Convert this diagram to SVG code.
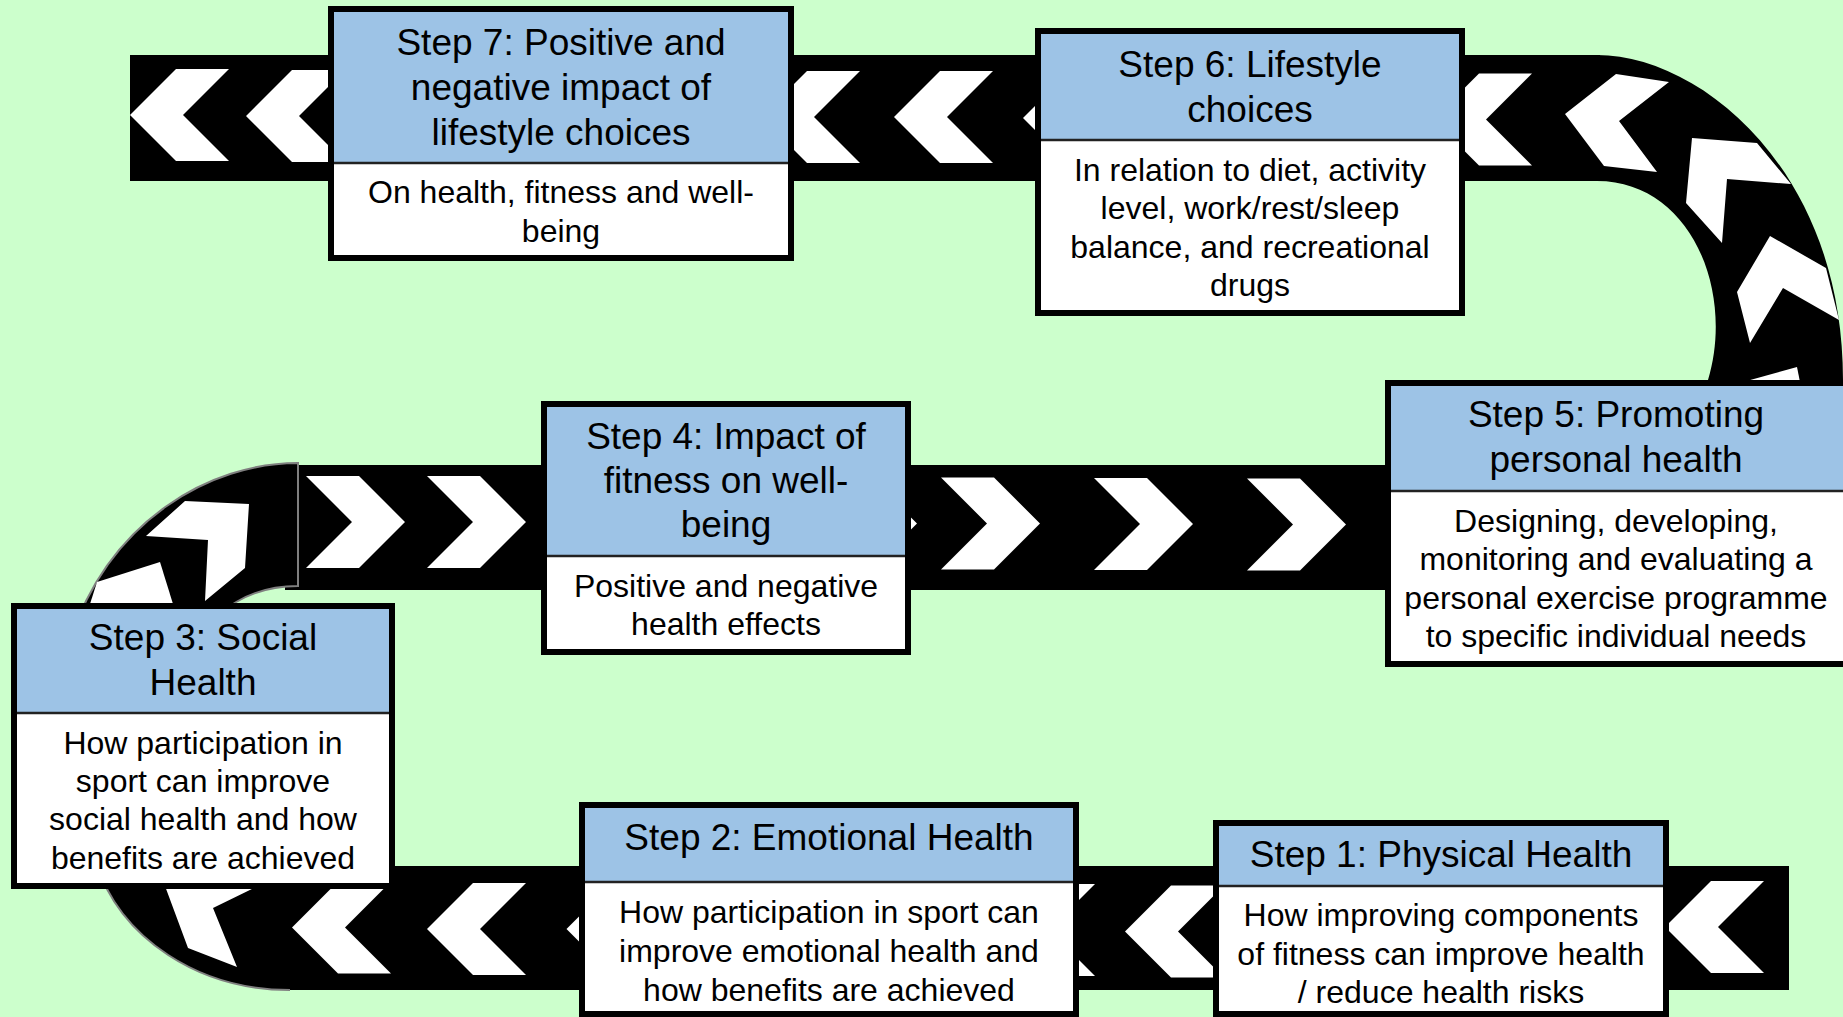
<svg xmlns="http://www.w3.org/2000/svg" xmlns:xlink="http://www.w3.org/1999/xlink" width="1843" height="1017" viewBox="0 0 1843 1017">
  <style>
    .hdr { font-family: "Liberation Sans", Arial, sans-serif; font-size: 37px; text-anchor: middle; fill: #000; }
    .txt { font-family: "Liberation Sans", Arial, sans-serif; font-size: 32px; text-anchor: middle; fill: #000; }
    .frame { fill: none; stroke: #000; stroke-width: 6; }
    .head { fill: #9DC3E6; }
    .sheet { fill: #FFFFFF; }
    .rule { stroke: #222; stroke-width: 2.5; }
    .road { fill: #000; }
    .edge { stroke: #7F7F7F; stroke-width: 2; }
    .arrow { fill: #FFFFFF; }
  </style>
  <defs>
    <!-- left-pointing chevron, tip at the origin -->
    <polygon id="chev" points="0,0 46,-46 99,-46 53,0 99,46 46,46"/>
  </defs>

  <rect x="0" y="0" width="1843" height="1017" fill="#CCFFCC"/>

  <g id="connectors">
    <!-- top road with the bend down on the right -->
    <rect class="road" x="130" y="55" width="1470" height="126"/>
    <path class="road" d="M1597,55 C1700,55 1843,170 1843,380 L1843,600 L1708,600 L1708,380 C1735,290 1690,181 1597,181 Z"/>
    <!-- middle road -->
    <rect class="road" x="285" y="465" width="1520" height="125"/>
    <!-- bottom road -->
    <rect class="road" x="288" y="866" width="1501" height="124"/>
    <!-- left bend, upper piece -->
    <path class="road edge" d="M298,463 C210,463 110,520 70,640 L200,640 C215,610 250,586 298,586 Z"/>
    <!-- left bend, lower piece -->
    <path class="road" d="M290,990 C200,990 120,940 95,860 L95,820 L290,820 Z"/>
    <path fill="none" class="edge" d="M290,990 C200,990 120,940 95,860"/>

    <!-- top road chevrons (pointing left) -->
    <use xlink:href="#chev" href="#chev" class="arrow" x="130" y="115"/>
    <use xlink:href="#chev" href="#chev" class="arrow" x="246" y="116"/>
    <use xlink:href="#chev" href="#chev" class="arrow" x="761" y="117"/>
    <use xlink:href="#chev" href="#chev" class="arrow" x="894" y="117"/>
    <use xlink:href="#chev" href="#chev" class="arrow" x="1023" y="118"/>
    <use xlink:href="#chev" href="#chev" class="arrow" x="1433" y="119.5"/>
    <!-- chevrons along the right bend -->
    <polygon class="arrow" points="1565,114 1616,74 1669,82 1619,121 1657,172 1604,166"/>
    <polygon class="arrow" points="1692,138 1757,143 1791,184 1727,179 1722,243 1686,203"/>
    <polygon class="arrow" points="1770,236 1826,268 1839,320 1783,288 1750,343 1737,292"/>
    <polygon class="arrow" points="1743,382 1797,367 1800,382"/>

    <!-- middle road chevrons (pointing right) -->
    <use xlink:href="#chev" href="#chev" class="arrow" transform="translate(405,522) scale(-1,1)"/>
    <use xlink:href="#chev" href="#chev" class="arrow" transform="translate(526,522) scale(-1,1)"/>
    <use xlink:href="#chev" href="#chev" class="arrow" transform="translate(917,523.5) scale(-1,1)"/>
    <use xlink:href="#chev" href="#chev" class="arrow" transform="translate(1040,523.5) scale(-1,1)"/>
    <use xlink:href="#chev" href="#chev" class="arrow" transform="translate(1193,524) scale(-1,1)"/>
    <use xlink:href="#chev" href="#chev" class="arrow" transform="translate(1346,524.5) scale(-1,1)"/>
    <!-- chevrons along the left bend -->
    <polygon class="arrow" points="146,536 185,501 249,504 245,568 205,601 208,540"/>
    <polygon class="arrow" points="97,582 160,562 173,604 90,604"/>
    <polygon class="arrow" points="165,886 258,886 213,908 237,967 188,948"/>

    <!-- bottom road chevrons (pointing left) -->
    <use xlink:href="#chev" href="#chev" class="arrow" x="292" y="927.5"/>
    <use xlink:href="#chev" href="#chev" class="arrow" x="427" y="929"/>
    <use xlink:href="#chev" href="#chev" class="arrow" x="566.5" y="929"/>
    <use xlink:href="#chev" href="#chev" class="arrow" x="996" y="930"/>
    <use xlink:href="#chev" href="#chev" class="arrow" x="1125" y="931.5"/>
    <use xlink:href="#chev" href="#chev" class="arrow" x="1665" y="927"/>
  </g>

  <g id="step7">
    <rect class="head" x="331" y="9" width="460" height="154"/>
    <rect class="sheet" x="331" y="163" width="460" height="95"/>
    <line class="rule" x1="331" y1="163" x2="791" y2="163"/>
    <rect class="frame" x="331" y="9" width="460" height="249"/>
    <text class="hdr" x="561" y="55">Step 7: Positive and</text>
    <text class="hdr" x="561" y="100">negative impact of</text>
    <text class="hdr" x="561" y="145">lifestyle choices</text>
    <text class="txt" x="561" y="203">On health, fitness and well-</text>
    <text class="txt" x="561" y="241.5">being</text>
  </g>

  <g id="step6">
    <rect class="head" x="1038" y="31" width="424" height="109"/>
    <rect class="sheet" x="1038" y="140" width="424" height="173"/>
    <line class="rule" x1="1038" y1="140" x2="1462" y2="140"/>
    <rect class="frame" x="1038" y="31" width="424" height="282"/>
    <text class="hdr" x="1250" y="77">Step 6: Lifestyle</text>
    <text class="hdr" x="1250" y="121.5">choices</text>
    <text class="txt" x="1250" y="181">In relation to diet, activity</text>
    <text class="txt" x="1250" y="219">level, work/rest/sleep</text>
    <text class="txt" x="1250" y="257.5">balance, and recreational</text>
    <text class="txt" x="1250" y="296">drugs</text>
  </g>

  <g id="step5">
    <rect class="head" x="1388" y="383" width="459" height="108"/>
    <rect class="sheet" x="1388" y="491" width="459" height="173"/>
    <line class="rule" x1="1388" y1="491" x2="1847" y2="491"/>
    <rect class="frame" x="1388" y="383" width="459" height="281"/>
    <text class="hdr" x="1616" y="427">Step 5: Promoting</text>
    <text class="hdr" x="1616" y="471.5">personal health</text>
    <text class="txt" x="1616" y="531.5">Designing, developing,</text>
    <text class="txt" x="1616" y="570">monitoring and evaluating a</text>
    <text class="txt" x="1616" y="608.5">personal exercise programme</text>
    <text class="txt" x="1616" y="647">to specific individual needs</text>
  </g>

  <g id="step4">
    <rect class="head" x="544" y="404" width="364" height="152"/>
    <rect class="sheet" x="544" y="556" width="364" height="96"/>
    <line class="rule" x1="544" y1="556" x2="908" y2="556"/>
    <rect class="frame" x="544" y="404" width="364" height="248"/>
    <text class="hdr" x="726" y="448.5">Step 4: Impact of</text>
    <text class="hdr" x="726" y="493">fitness on well-</text>
    <text class="hdr" x="726" y="537">being</text>
    <text class="txt" x="726" y="597">Positive and negative</text>
    <text class="txt" x="726" y="635">health effects</text>
  </g>

  <g id="step3">
    <rect class="head" x="14" y="606" width="378" height="107"/>
    <rect class="sheet" x="14" y="713" width="378" height="173"/>
    <line class="rule" x1="14" y1="713" x2="392" y2="713"/>
    <rect class="frame" x="14" y="606" width="378" height="280"/>
    <text class="hdr" x="203" y="649.5">Step 3: Social</text>
    <text class="hdr" x="203" y="695">Health</text>
    <text class="txt" x="203" y="753.5">How participation in</text>
    <text class="txt" x="203" y="792">sport can improve</text>
    <text class="txt" x="203" y="830">social health and how</text>
    <text class="txt" x="203" y="868.5">benefits are achieved</text>
  </g>

  <g id="step2">
    <rect class="head" x="582" y="805" width="494" height="77"/>
    <rect class="sheet" x="582" y="882" width="494" height="132"/>
    <line class="rule" x1="582" y1="882" x2="1076" y2="882"/>
    <rect class="frame" x="582" y="805" width="494" height="209"/>
    <text class="hdr" x="829" y="850">Step 2: Emotional Health</text>
    <text class="txt" x="829" y="923">How participation in sport can</text>
    <text class="txt" x="829" y="962">improve emotional health and</text>
    <text class="txt" x="829" y="1001">how benefits are achieved</text>
  </g>

  <g id="step1">
    <rect class="head" x="1216" y="823" width="450" height="63"/>
    <rect class="sheet" x="1216" y="886" width="450" height="128"/>
    <line class="rule" x1="1216" y1="886" x2="1666" y2="886"/>
    <rect class="frame" x="1216" y="823" width="450" height="191"/>
    <text class="hdr" x="1441" y="866.5">Step 1: Physical Health</text>
    <text class="txt" x="1441" y="926">How improving components</text>
    <text class="txt" x="1441" y="964.5">of fitness can improve health</text>
    <text class="txt" x="1441" y="1003">/ reduce health risks</text>
  </g>
</svg>
